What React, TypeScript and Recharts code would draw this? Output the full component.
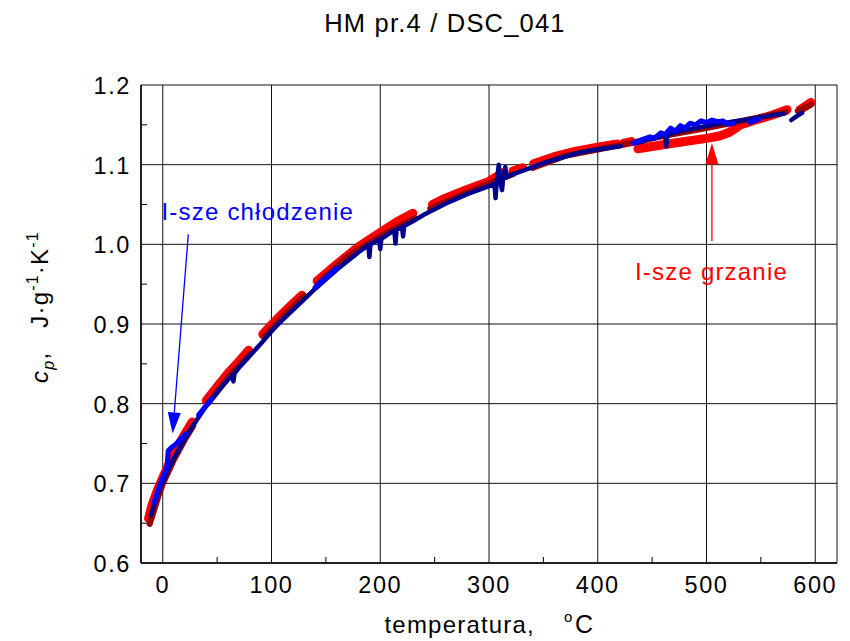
import React from 'react';
import { ComposedChart, Line, XAxis, YAxis, CartesianGrid, ReferenceLine } from 'recharts';

const FONT = '"Liberation Sans", Arial, Helvetica, sans-serif';
const W = 850;
const H = 641;

const X_DOMAIN: [number, number] = [-20, 620];
const Y_DOMAIN: [number, number] = [0.6, 1.2];
const xMajor = [0, 100, 200, 300, 400, 500, 600];
const xMinor = [50, 150, 250, 350, 450, 550];
const yMajor = [0.6, 0.7, 0.8, 0.9, 1.0, 1.1, 1.2];
const yMinor = [0.65, 0.75, 0.85, 0.95, 1.05, 1.15];

type Pt = [number, number];

// I-sze grzanie (bright red), one array per measured segment
const heating1: Pt[][] = [
  [[-13, 0.656], [-10, 0.672], [-5, 0.691], [0, 0.707], [5, 0.722], [10, 0.736], [15, 0.749], [20, 0.761], [27, 0.777]],
  [[40, 0.804], [50, 0.821], [60, 0.838], [70, 0.853], [79, 0.867]],
  [[92, 0.887], [100, 0.899], [110, 0.913], [120, 0.926], [128, 0.936]],
  [[142, 0.954], [160, 0.975], [180, 0.997], [200, 1.015], [215, 1.028], [230, 1.039]],
  [[248, 1.05], [260, 1.058], [280, 1.069], [300, 1.079], [313, 1.09]],
  [[322, 1.092], [331, 1.096]],
  [[341, 1.101], [360, 1.11], [380, 1.117], [400, 1.122], [418, 1.126]],
  [[424, 1.127], [431, 1.129]],
  [[437, 1.12], [460, 1.125], [480, 1.129], [500, 1.133], [512, 1.136], [520, 1.14], [526, 1.145], [531, 1.15], [545, 1.156], [560, 1.162], [574, 1.169]],
  [[586, 1.169], [596, 1.178]],
];

// second heating run (dark red)
const heating2: Pt[][] = [
  [[-12, 0.649], [-8, 0.666], [-4, 0.684], [0, 0.699], [10, 0.729], [20, 0.754], [28, 0.772]],
  [[42, 0.801], [60, 0.833], [80, 0.862]],
  [[93, 0.884], [110, 0.909], [130, 0.935]],
  [[143, 0.951], [170, 0.985], [200, 1.01], [232, 1.033]],
  [[246, 1.045], [280, 1.065], [310, 1.082], [322, 1.088]],
  [[340, 1.096], [370, 1.111], [400, 1.119], [430, 1.127], [460, 1.136], [500, 1.146], [540, 1.157], [573, 1.166]],
  [[584, 1.167], [596, 1.175]],
];

// second cooling run (navy), with the noisy spikes
const cooling2: Pt[][] = [
  [
    [-11, 0.66], [-5, 0.686], [0, 0.702], [5, 0.717], [10, 0.731], [20, 0.755], [30, 0.777], [40, 0.797],
    [50, 0.814], [60, 0.83], [64, 0.836], [65, 0.828], [66, 0.838], [70, 0.845], [80, 0.86], [90, 0.875],
    [100, 0.891], [110, 0.905], [120, 0.918], [130, 0.931], [140, 0.944], [150, 0.956], [160, 0.968],
    [170, 0.979], [180, 0.99], [189, 0.999], [190, 0.984], [191, 1.0], [199, 1.006], [200, 0.994],
    [201, 1.007], [210, 1.015], [213, 1.017], [214, 1.001], [215, 1.018], [220, 1.022], [221, 1.01],
    [222, 1.023], [230, 1.029], [240, 1.037], [250, 1.044], [260, 1.051], [270, 1.057], [280, 1.063],
    [290, 1.068], [300, 1.073], [305, 1.076], [306, 1.058], [307, 1.077], [309, 1.1], [310, 1.081],
    [312, 1.068], [313, 1.083], [315, 1.097], [316, 1.084], [320, 1.087], [330, 1.092], [340, 1.097],
    [350, 1.102], [360, 1.106], [370, 1.11], [380, 1.114], [390, 1.117], [400, 1.119], [410, 1.121], [421, 1.123],
  ],
  [[436, 1.127], [450, 1.133], [462, 1.137], [463, 1.123], [464, 1.138], [470, 1.14], [490, 1.146], [510, 1.151], [530, 1.155], [550, 1.16], [571, 1.164]],
  [[578, 1.156], [583, 1.161], [588, 1.165]],
];

// I-sze chłodzenie (bright blue)
const cooling1: Pt[][] = [
  [[-8, 0.676], [-3, 0.697], [2, 0.714], [4, 0.721], [5, 0.741], [8, 0.745], [12, 0.749], [16, 0.755], [21, 0.762]],
  [[33, 0.786], [45, 0.806]],
  [[140, 0.946], [160, 0.97]],
  [
    [433, 1.127], [440, 1.131], [448, 1.135], [452, 1.133], [458, 1.14], [462, 1.138], [467, 1.146], [471, 1.142],
    [476, 1.149], [480, 1.146], [485, 1.152], [490, 1.15], [495, 1.155], [500, 1.153], [505, 1.156], [510, 1.154],
    [515, 1.155], [520, 1.151], [525, 1.152],
  ],
  [[540, 1.153], [548, 1.157]],
];

const coolingArrow = [{ t: 23.5, cp: 1.0125 }, { t: 9.1, cp: 0.7625 }];
const heatingArrow = [{ t: 505, cp: 1.004 }, { t: 505, cp: 1.127 }];

const SERIES = [
  { name: 'heat1', segs: heating1, color: '#ff0000', width: 9 },
  { name: 'heat2', segs: heating2, color: '#990000', width: 6 },
  { name: 'cool2', segs: cooling2, color: '#00008c', width: 4.5 },
  { name: 'cool1', segs: cooling1, color: '#0000ff', width: 5 },
];

const isIn = (arr: number[], v: number) => arr.some((m) => Math.abs(m - v) < 1e-6);

function XTick(props: any) {
  const { x, y, payload } = props;
  const v = payload.value;
  if (isIn(xMinor, v)) return <line x1={x} y1={y} x2={x} y2={y - 6} stroke="#000" strokeWidth={1} />;
  return (
    <text x={x} y={y + 30} textAnchor="middle" fontFamily={FONT} fontSize={23.5} letterSpacing={1.6} fill="#000">
      {v}
    </text>
  );
}

function YTick(props: any) {
  const { x, y, payload } = props;
  const v = payload.value;
  if (isIn(yMinor, v)) return <line x1={x} y1={y} x2={x + 6} y2={y} stroke="#000" strokeWidth={1} />;
  return (
    <text x={x - 10} y={y + 9} textAnchor="end" fontFamily={FONT} fontSize={23.5} letterSpacing={1.6} fill="#000">
      {v.toFixed(1)}
    </text>
  );
}

function arrowShape(color: string) {
  return (p: any) => {
    const { x1, y1, x2, y2 } = p;
    const dx = x2 - x1;
    const dy = y2 - y1;
    const len = Math.hypot(dx, dy) || 1;
    const ux = dx / len;
    const uy = dy / len;
    const head = 21;
    const half = 6.5;
    const bx = x2 - ux * head;
    const by = y2 - uy * head;
    const pts = `${x2},${y2} ${bx - uy * half},${by + ux * half} ${bx + uy * half},${by - ux * half}`;
    return (
      <g>
        <line x1={x1} y1={y1} x2={bx} y2={by} stroke={color} strokeWidth={1.3} />
        <polygon points={pts} fill={color} />
      </g>
    );
  };
}

export default function App() {
  const xTicks = [...xMajor, ...xMinor].sort((a, b) => a - b);
  const yTicks = [...yMajor, ...yMinor].sort((a, b) => a - b);
  const gridX = [X_DOMAIN[0], ...xMajor, X_DOMAIN[1]];

  return (
    <div style={{ position: 'absolute', left: 0, top: 0, width: W, height: H, background: '#fff' }}>
      <ComposedChart width={W} height={H} margin={{ top: 85, right: 13, left: 81, bottom: 38 }}>
        <CartesianGrid
          stroke="#111"
          strokeWidth={1}
          verticalCoordinatesGenerator={({ offset }: any) =>
            gridX.map((v) => offset.left + ((v - X_DOMAIN[0]) / (X_DOMAIN[1] - X_DOMAIN[0])) * offset.width)
          }
          horizontalCoordinatesGenerator={({ offset }: any) =>
            yMajor.map((v) => offset.top + ((Y_DOMAIN[1] - v) / (Y_DOMAIN[1] - Y_DOMAIN[0])) * offset.height)
          }
        />
        <XAxis
          type="number"
          dataKey="t"
          domain={X_DOMAIN}
          ticks={xTicks}
          interval={0}
          allowDataOverflow
          height={40}
          tickSize={0}
          tickMargin={0}
          tickLine={false}
          axisLine={{ stroke: '#000', strokeWidth: 1.5 }}
          tick={<XTick />}
        />
        <YAxis
          type="number"
          dataKey="cp"
          domain={Y_DOMAIN}
          ticks={yTicks}
          interval={0}
          allowDataOverflow
          width={60}
          tickSize={0}
          tickMargin={0}
          tickLine={false}
          axisLine={{ stroke: '#000', strokeWidth: 1.5 }}
          tick={<YTick />}
        />
        {SERIES.map((s) =>
          s.segs.map((seg, i) => (
            <Line
              key={`${s.name}-${i}`}
              data={seg.map(([t, cp]) => ({ t, cp }))}
              dataKey="cp"
              type="linear"
              stroke={s.color}
              strokeWidth={s.width}
              strokeLinecap="round"
              strokeLinejoin="round"
              dot={false}
              activeDot={false}
              isAnimationActive={false}
            />
          ))
        )}
        <ReferenceLine
          segment={coolingArrow.map((p) => ({ x: p.t, y: p.cp }))}
          stroke="#0000ff"
          shape={arrowShape('#0000ff')}
        />
        <ReferenceLine
          segment={heatingArrow.map((p) => ({ x: p.t, y: p.cp }))}
          stroke="#ff0000"
          shape={arrowShape('#ff0000')}
        />
      </ComposedChart>
      <svg
        width={W}
        height={H}
        style={{ position: 'absolute', left: 0, top: 0, pointerEvents: 'none' }}
        fontFamily={FONT}
      >
        <text x={445} y={31.5} textAnchor="middle" fontSize={25.5} letterSpacing={1.2} fill="#000">
          HM pr.4 / DSC_041
        </text>
        <text x={161.5} y={219.5} fontSize={24} letterSpacing={1.2} fill="#0000ff">
          I-sze chłodzenie
        </text>
        <text x={635} y={280} fontSize={24} letterSpacing={1.2} fill="#ff0000">
          I-sze grzanie
        </text>
        <text x={384.5} y={633} fontSize={24} letterSpacing={1.2} fill="#000">
          temperatura,
        </text>
        <text x={564} y={622} fontSize={15} fill="#000">
          o
        </text>
        <text x={575} y={633} fontSize={25} fill="#000">
          C
        </text>
        <text transform="translate(48,307) rotate(-90)" textAnchor="middle" fontSize={24} letterSpacing={1.2} fill="#000">
          <tspan fontStyle="italic">c</tspan>
          <tspan fontStyle="italic" fontSize={16} dy={6}>p</tspan>
          <tspan dy={-6}>,</tspan>
          <tspan dx={24}>J·g</tspan>
          <tspan fontSize={16} dy={-10}>-1</tspan>
          <tspan dy={10}>·K</tspan>
          <tspan fontSize={16} dy={-10}>-1</tspan>
        </text>
      </svg>
    </div>
  );
}
